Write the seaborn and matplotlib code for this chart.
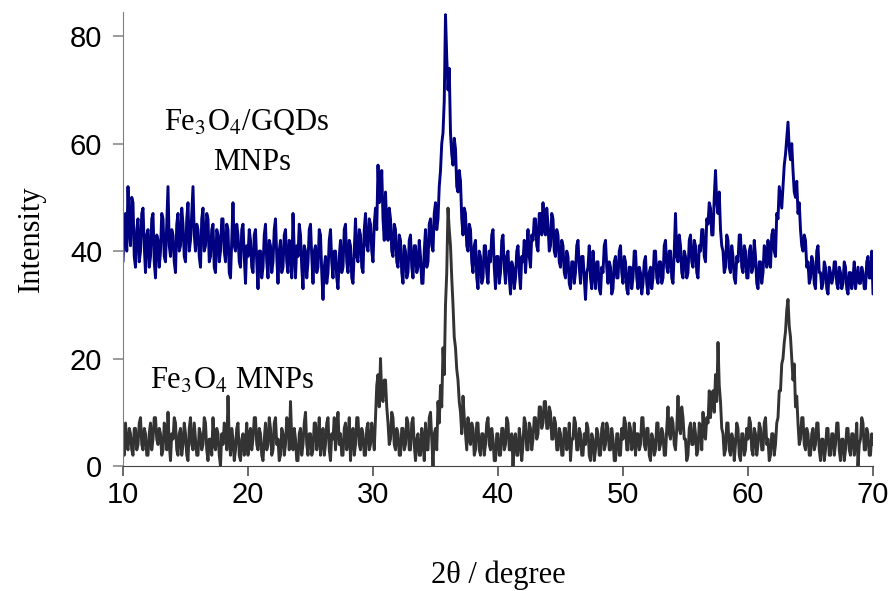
import numpy as np
import pandas as pd
import matplotlib
matplotlib.use('Agg')
import matplotlib.pyplot as plt
import seaborn as sns

# 2theta grid: 10.0 to 70.0, step 0.1 degree
two_theta = np.round(np.arange(10.0, 70.001, 0.1), 1)

# Fe3O4/GQDs MNPs pattern, one row per degree (x.0 ... x.9)
gqd_intensity = [
    38, 45, 47, 40, 52, 44, 41, 50, 49, 39,  # 10
    37, 44, 46, 38, 40, 47, 48, 41, 36, 43,
    44, 37, 39, 46, 47, 38, 35, 43, 42, 37,
    40, 47, 46, 39, 38, 45, 52, 41, 39, 44,
    43, 38, 36, 45, 47, 40, 41, 48, 45, 39,
    38, 46, 49, 40, 42, 47, 52, 43, 40, 45,  # 15
    44, 39, 37, 46, 48, 40, 41, 47, 46, 38,
    39, 44, 45, 37, 36, 44, 43, 38, 40, 46,
    46, 40, 38, 45, 44, 36, 35, 42, 49, 41,
    40, 45, 43, 38, 37, 44, 45, 39, 34, 41,
    39, 44, 42, 37, 36, 43, 44, 38, 33, 40,  # 20
    40, 35, 37, 43, 45, 38, 35, 42, 41, 36,
    38, 44, 46, 39, 34, 40, 42, 36, 37, 43,
    44, 38, 36, 42, 41, 35, 47, 40, 35, 41,
    39, 45, 43, 37, 33, 41, 40, 35, 38, 44,
    45, 39, 34, 40, 41, 36, 37, 44, 43, 36,  # 25
    31, 37, 39, 34, 36, 42, 44, 38, 35, 40,
    40, 35, 33, 39, 42, 36, 37, 44, 45, 38,
    36, 42, 41, 35, 34, 40, 46, 39, 38, 44,
    43, 37, 36, 44, 47, 41, 40, 46, 45, 40,
    38, 45, 48, 44, 56, 49, 50, 55, 46, 42,  # 30
    51, 45, 42, 48, 46, 40, 39, 45, 44, 38,
    37, 43, 42, 36, 34, 41, 40, 35, 36, 42,
    43, 37, 35, 41, 41, 36, 37, 42, 39, 34,
    34, 40, 44, 37, 38, 45, 46, 41, 40, 47,
    49, 44, 46, 52, 55, 60, 62, 68, 84, 76,  # 35
    70, 74, 62, 58, 56, 61, 59, 52, 51, 55,
    53, 46, 43, 48, 47, 41, 40, 45, 44, 38,
    36, 41, 42, 35, 33, 40, 39, 34, 35, 41,
    41, 36, 34, 40, 38, 43, 44, 37, 33, 39,
    39, 34, 36, 42, 43, 37, 34, 39, 40, 35,  # 40
    32, 38, 37, 33, 35, 40, 41, 36, 33, 39,
    38, 42, 36, 40, 44, 39, 37, 43, 42, 46,
    46, 41, 40, 47, 47, 43, 49, 44, 43, 48,
    45, 40, 41, 47, 46, 40, 39, 44, 43, 38,
    37, 42, 41, 36, 35, 40, 39, 34, 33, 38,  # 45
    38, 34, 36, 41, 42, 37, 34, 39, 39, 35,
    31, 36, 37, 41, 35, 33, 40, 36, 33, 38,
    38, 33, 32, 37, 36, 41, 42, 37, 34, 38,
    37, 32, 33, 38, 39, 35, 35, 40, 41, 36,
    34, 39, 38, 33, 32, 37, 37, 33, 35, 40,  # 50
    40, 35, 33, 37, 36, 32, 34, 38, 39, 34,
    32, 36, 37, 33, 35, 40, 40, 35, 34, 38,
    38, 34, 35, 41, 42, 37, 36, 40, 40, 35,
    34, 40, 47, 39, 38, 43, 41, 36, 35, 40,
    39, 35, 36, 42, 43, 38, 37, 42, 41, 36,  # 55
    35, 41, 40, 44, 44, 39, 38, 46, 45, 49,
    48, 43, 43, 50, 55, 49, 47, 51, 44, 41,
    40, 36, 37, 43, 42, 37, 36, 41, 39, 35,
    34, 39, 38, 43, 43, 37, 36, 41, 40, 35,
    35, 40, 41, 36, 37, 42, 39, 34, 33, 38,  # 60
    38, 34, 36, 41, 40, 37, 42, 38, 37, 43,
    44, 40, 39, 47, 46, 52, 50, 48, 52, 56,
    58, 61, 64, 59, 57, 60, 55, 51, 50, 53,
    47, 49, 44, 41, 40, 43, 42, 37, 38, 34,
    35, 39, 38, 34, 33, 40, 41, 36, 36, 33,  # 65
    34, 38, 37, 33, 32, 37, 36, 34, 35, 38,
    38, 34, 33, 37, 36, 33, 34, 38, 37, 33,
    32, 36, 36, 33, 35, 38, 33, 35, 37, 34,
    34, 37, 36, 33, 33, 38, 39, 35, 35, 40,
    32,  # 70
]

# Fe3O4 MNPs pattern
fe3o4_intensity = [
    5, 2, 8, 4, 3, 7, 6, 3, 2, 7,  # 10
    7, 3, 4, 8, 9, 4, 3, 7, 6, 2,
    2, 6, 8, 3, 5, 9, 9, 5, 4, 7,
    6, 2, 3, 8, 7, 3, 10, 4, 1, 6,
    5, 9, 8, 3, 2, 6, 7, 2, 4, 8,
    6, 2, 1, 7, 9, 4, 3, 8, 5, 2,  # 15
    2, 7, 6, 3, 4, 9, 8, 3, 1, 5,
    5, 2, 9, 4, 3, 7, 6, 2, 0, 6,
    4, 8, 7, 3, 13, 5, 2, 7, 5, 1,
    3, 7, 8, 2, 1, 5, 6, 2, 4, 8,
    2, 6, 7, 3, 5, 9, 9, 4, 3, 7,  # 20
    6, 2, 1, 5, 8, 3, 4, 9, 7, 2,
    3, 8, 9, 4, 5, 1, 2, 7, 6, 2,
    4, 9, 8, 3, 12, 5, 3, 7, 5, 1,
    1, 6, 7, 2, 4, 8, 10, 4, 2, 6,
    6, 2, 3, 8, 8, 3, 5, 9, 2, 5,  # 25
    7, 2, 4, 8, 9, 3, 1, 6, 5, 9,
    3, 7, 10, 4, 6, 2, 2, 7, 8, 3,
    5, 9, 1, 6, 7, 2, 4, 9, 9, 4,
    3, 7, 6, 2, 2, 7, 8, 3, 4, 8,
    6, 3, 9, 15, 17, 11, 20, 13, 12, 16,  # 30
    16, 11, 8, 4, 5, 10, 9, 4, 3, 7,
    6, 2, 2, 7, 7, 3, 4, 9, 8, 3,
    3, 8, 9, 4, 1, 5, 6, 2, 2, 7,
    5, 1, 8, 3, 3, 9, 10, 5, 0, 6,
    7, 3, 12, 8, 15, 11, 22, 17, 30, 36,  # 35
    48, 44, 41, 35, 30, 24, 22, 18, 16, 12,
    10, 6, 13, 9, 6, 3, 9, 5, 4, 8,
    7, 2, 3, 8, 8, 3, 2, 6, 6, 2,
    4, 8, 9, 4, 3, 7, 5, 1, 1, 6,
    6, 2, 2, 7, 7, 3, 4, 9, 8, 3,  # 40
    3, 6, 0, 5, 6, 2, 2, 7, 5, 1,
    4, 9, 8, 3, 3, 8, 7, 3, 5, 9,
    9, 5, 6, 11, 11, 7, 8, 12, 12, 7,
    7, 11, 10, 5, 5, 9, 8, 3, 3, 7,
    6, 2, 2, 7, 7, 3, 4, 8, 1, 5,  # 45
    5, 9, 8, 3, 3, 7, 6, 2, 2, 6,
    4, 8, 7, 2, 1, 6, 5, 1, 3, 7,
    6, 2, 2, 7, 8, 3, 4, 8, 7, 3,
    3, 7, 5, 1, 1, 6, 6, 2, 2, 7,
    5, 9, 8, 3, 3, 8, 7, 3, 4, 8,  # 50
    2, 6, 6, 3, 4, 9, 9, 4, 3, 7,
    7, 2, 1, 6, 5, 2, 3, 8, 8, 3,
    4, 7, 6, 2, 2, 7, 11, 6, 5, 9,
    8, 4, 3, 7, 13, 7, 6, 11, 9, 5,
    5, 1, 2, 7, 8, 4, 4, 8, 6, 2,  # 55
    3, 8, 7, 3, 10, 6, 5, 9, 8, 14,
    9, 13, 14, 10, 17, 12, 23, 15, 12, 7,
    6, 2, 3, 8, 8, 3, 2, 6, 5, 1,
    4, 8, 7, 2, 1, 6, 6, 2, 3, 7,
    5, 9, 8, 3, 2, 7, 6, 2, 4, 8,  # 60
    7, 3, 3, 8, 9, 4, 5, 1, 2, 6,
    6, 2, 4, 8, 9, 14, 14, 19, 20, 23,
    25, 29, 31, 26, 24, 20, 16, 19, 11, 13,
    8, 4, 5, 9, 9, 4, 3, 7, 6, 2,
    2, 6, 7, 3, 4, 8, 8, 3, 1, 5,  # 65
    5, 1, 3, 7, 7, 2, 2, 6, 6, 2,
    4, 8, 8, 3, 1, 5, 5, 1, 3, 7,
    7, 3, 2, 6, 6, 2, 4, 8, 0, 4,
    5, 9, 8, 3, 3, 7, 6, 2, 2, 6,
    4,  # 70
]

series_names = ['Fe3O4/GQDs MNPs', 'Fe3O4 MNPs']
series_colors = ['#000080', '#333333']

df = pd.DataFrame({
    'two_theta': np.concatenate([two_theta, two_theta]),
    'intensity': gqd_intensity + fe3o4_intensity,
    'sample': [series_names[0]] * len(two_theta) + [series_names[1]] * len(two_theta),
})

sns.set_style('white')
plt.rcParams['mathtext.fontset'] = 'stix'
plt.rcParams['text.color'] = 'black'

fig = plt.figure(figsize=(8.94, 5.91), dpi=100)
ax = fig.add_axes([123 / 894, 125 / 591, 750 / 894, 454 / 591])

sns.lineplot(data=df, x='two_theta', y='intensity', hue='sample',
             palette=dict(zip(series_names, series_colors)),
             linewidth=2.1, legend=False, ax=ax, estimator=None, sort=False)

ax.set_xlim(10, 70)
ax.set_ylim(0, 84.5)
ax.set_xticks(range(10, 71, 10))
ax.set_yticks(range(0, 81, 20))

sns.despine(ax=ax)
ax.spines['left'].set_color('#808080')
ax.spines['bottom'].set_color('#404040')
ax.tick_params(axis='both', direction='out', length=7, width=1.1,
               labelsize=21, color='#404040', labelcolor='black',
               bottom=True, left=True)
ax.tick_params(axis='x', pad=4)
ax.tick_params(axis='y', pad=8, color='#808080')
for lab in ax.get_xticklabels() + ax.get_yticklabels():
    lab.set_fontfamily(['Liberation Sans', 'DejaVu Sans'])

serif = ['Liberation Serif', 'DejaVu Serif']
ax.set_xlabel('2θ / degree', fontsize=22, family=serif, labelpad=37, color='black')
ax.set_ylabel('Intensity', fontsize=22, family=serif, labelpad=17, color='black')

ax.text(19.9, 64, r'Fe$_3$O$_4$/GQDs', fontsize=22, family=serif,
        ha='center', va='center')
ax.text(20.3, 56.4, 'MNPs', fontsize=22, family=serif, ha='center', va='center')
ax.text(18.7, 15.8, r'Fe$_3$O$_4$ MNPs', fontsize=22, family=serif,
        ha='center', va='center')

fig.savefig('out.png', dpi=100)
